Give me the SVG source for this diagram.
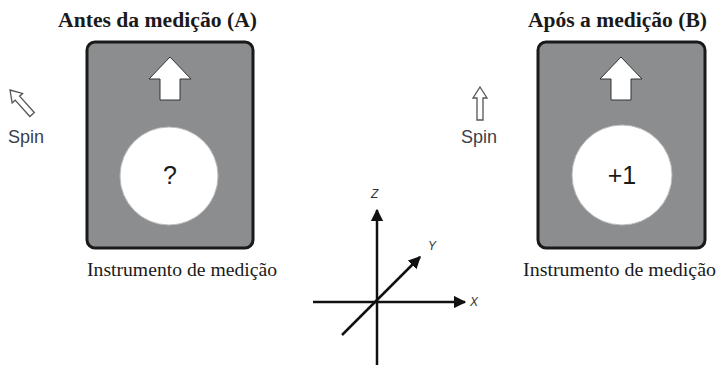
<svg xmlns="http://www.w3.org/2000/svg" width="718" height="366" viewBox="0 0 718 366">
<style>
.title{font-family:"Liberation Serif","DejaVu Serif",serif;font-weight:bold;font-size:20px;fill:#1a1a1a}
.cap{font-family:"Liberation Serif","DejaVu Serif",serif;font-size:18px;fill:#1a1a1a}
.box{fill:#8b8d8f;stroke:#1a1a1a;stroke-width:3}
.disc{fill:#fff;stroke:#bbb;stroke-width:1}
.val{font-family:"Liberation Sans",Arial,sans-serif;font-size:25px;fill:#1a1a1a;text-anchor:middle}
.big{fill:#fff;stroke:#333;stroke-width:1}
.spin{fill:#fff;stroke:#555;stroke-width:1.3;stroke-linejoin:miter}
.spint{font-family:"Liberation Sans",Arial,sans-serif;font-size:18px;fill:#3a3f4a}
.axis{stroke:#111;stroke-width:2.5;fill:none}
.axl{font-family:"Liberation Sans",Arial,sans-serif;font-style:italic;font-size:12px;fill:#333}
</style>
<defs>
<marker id="ah" viewBox="0 0 10 10" refX="9" refY="5" markerWidth="5" markerHeight="5" orient="auto" markerUnits="strokeWidth">
<path d="M0,0 L10,5 L0,10 Z" fill="#111"/>
</marker>
<polygon id="smallArrow" points="0,0 7,11 3,11 3,33 -3,33 -3,11 -7,11"/>
</defs>

<g id="nodeA">
<text class="title" x="58" y="27" textLength="199" lengthAdjust="spacingAndGlyphs">Antes da medição (A)</text>
<rect class="box" x="87" y="42" width="166" height="206" rx="8"/>
<polygon class="big" points="170,57 191,79 180,79 180,100 160,100 160,79 149,79"/>
<circle class="disc" cx="169" cy="176" r="49"/>
<text class="val" x="170" y="184">?</text>
<text class="cap" x="87" y="276" textLength="190" lengthAdjust="spacingAndGlyphs">Instrumento de medição</text>
</g>

<g id="spinA">
<use href="#smallArrow" class="spin" transform="translate(10,90) rotate(-42)"/>
<text class="spint" x="8" y="143">Spin</text>
</g>

<g id="nodeB">
<text class="title" x="528" y="27" textLength="179" lengthAdjust="spacingAndGlyphs">Após a medição (B)</text>
<rect class="box" x="538" y="42" width="167" height="206" rx="8"/>
<polygon class="big" points="621,57 642,79 631,79 631,100 611,100 611,79 600,79"/>
<circle class="disc" cx="622" cy="175" r="50"/>
<text class="val" x="622" y="184">+1</text>
<text class="cap" x="523" y="276" textLength="193" lengthAdjust="spacingAndGlyphs">Instrumento de medição</text>
</g>

<g id="spinB">
<use href="#smallArrow" class="spin" transform="translate(480,87)"/>
<text class="spint" x="461" y="143">Spin</text>
</g>

<g id="axes">
<line class="axis" x1="377" y1="365" x2="377" y2="210" marker-end="url(#ah)"/>
<line class="axis" x1="313" y1="302" x2="465" y2="302" marker-end="url(#ah)"/>
<line class="axis" x1="342" y1="335" x2="420" y2="257" marker-end="url(#ah)"/>
<text class="axl" x="371" y="198">Z</text>
<text class="axl" x="428" y="250">Y</text>
<text class="axl" x="470" y="306">X</text>
</g>
</svg>
